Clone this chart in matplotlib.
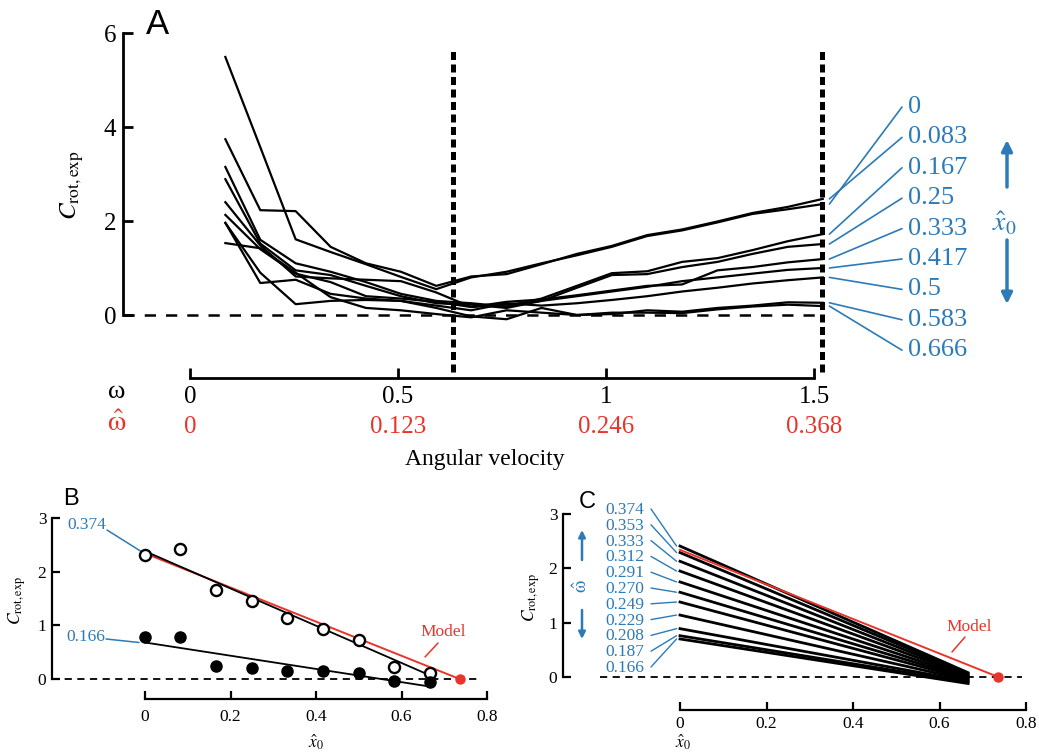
import numpy as np
import matplotlib
matplotlib.use('Agg')
import matplotlib.pyplot as plt
import matplotlib.transforms as mtransforms

# ------------------------------------------------------------------ data
# Panel A: angular velocity (omega) and experimental rotation coefficient
omega = [0.085, 0.169, 0.254, 0.338, 0.423, 0.507, 0.592, 0.676, 0.761,
         0.845, 0.930, 1.014, 1.099, 1.183, 1.268, 1.352, 1.437, 1.521]
x0_labels = ['0', '0.083', '0.167', '0.25', '0.333', '0.417', '0.5', '0.583', '0.666']
c_x0_000 = [5.49, 3.57, 1.61, 1.34, 1.08, 0.81, 0.55, 0.80, 0.92, 1.10, 1.27, 1.45, 1.68, 1.80, 1.97, 2.15, 2.25, 2.36]
c_x0_083 = [3.74, 2.23, 2.21, 1.45, 1.10, 0.92, 0.62, 0.82, 0.87, 1.08, 1.30, 1.47, 1.70, 1.82, 1.99, 2.17, 2.30, 2.47]
c_x0_167 = [3.15, 1.60, 1.10, 0.92, 0.70, 0.45, 0.30, 0.25, 0.18, 0.35, 0.62, 0.89, 0.93, 1.13, 1.21, 1.38, 1.57, 1.72]
c_x0_250 = [2.89, 1.52, 0.95, 0.85, 0.62, 0.40, 0.25, 0.22, 0.15, 0.30, 0.58, 0.85, 0.87, 1.02, 1.13, 1.30, 1.45, 1.51]
c_x0_333 = [2.40, 1.48, 0.82, 0.78, 0.75, 0.72, 0.48, 0.17, 0.28, 0.33, 0.42, 0.52, 0.62, 0.65, 0.95, 1.02, 1.12, 1.19]
c_x0_417 = [2.13, 1.40, 0.88, 0.70, 0.40, 0.35, 0.28, 0.17, 0.22, 0.30, 0.40, 0.50, 0.60, 0.72, 0.80, 0.88, 0.96, 1.00]
c_x0_500 = [1.96, 0.68, 0.75, 0.45, 0.35, 0.30, 0.20, 0.10, 0.25, 0.20, 0.25, 0.32, 0.40, 0.50, 0.58, 0.67, 0.74, 0.80]
c_x0_583 = [1.96, 0.90, 0.23, 0.30, 0.32, 0.30, 0.15, -0.03, -0.09, 0.15, 0.00, 0.02, 0.10, 0.07, 0.15, 0.20, 0.27, 0.26]
c_x0_666 = [1.53, 1.42, 0.90, 0.38, 0.15, 0.10, 0.02, -0.05, 0.10, 0.05, 0.00, 0.05, 0.05, 0.04, 0.12, 0.18, 0.22, 0.19]
series_A = [c_x0_000, c_x0_083, c_x0_167, c_x0_250, c_x0_333,
            c_x0_417, c_x0_500, c_x0_583, c_x0_666]
ref_omegas = [0.632, 1.52]
omega_ticks = [0, 0.5, 1, 1.5]
omega_tick_labels = ['0', '0.5', '1', '1.5']
omega_hat_labels = ['0', '0.123', '0.246', '0.368']

# Panel B: C_rot,exp vs x0 at two normalized angular velocities
x0_vals = [0, 0.083, 0.167, 0.25, 0.333, 0.417, 0.5, 0.583, 0.666]
b_open = [2.31, 2.42, 1.66, 1.45, 1.14, 0.93, 0.73, 0.22, 0.11]     # omega_hat 0.374
b_filled = [0.78, 0.78, 0.24, 0.20, 0.15, 0.15, 0.11, -0.04, -0.06]  # omega_hat 0.166
fit_x = [0, 0.666]
fit_open = [2.38, 0.07]
fit_filled = [0.68, -0.14]
model_x = [0, 0.736]
model_y = [2.34, 0.0]

# Panel C: fitted lines for several omega_hat values
omega_hat_C = ['0.374', '0.353', '0.333', '0.312', '0.291', '0.270',
               '0.249', '0.229', '0.208', '0.187', '0.166']
c_start = [2.41, 2.29, 2.13, 1.95, 1.75, 1.56, 1.38, 1.14, 0.89, 0.76, 0.70]
c_end = [0.08, 0.06, 0.04, 0.02, 0.00, -0.02, -0.04, -0.06, -0.08, -0.10, -0.12]
x_ticks_BC = [0, 0.2, 0.4, 0.6, 0.8]
x_tick_labels_BC = ['0', '0.2', '0.4', '0.6', '0.8']

# ------------------------------------------------------------------ style
W, H = 1039, 753
plt.rcParams['font.family'] = ['Liberation Serif', 'DejaVu Serif']
plt.rcParams['mathtext.fontset'] = 'stix'
BLUE = '#2c7bb8'
RED = '#e8352b'
SANS = ['Liberation Sans', 'DejaVu Sans']
OMEGA_HAT = r'$\hat{\mathrm{\omega}}$'

fig = plt.figure(figsize=(W / 100, H / 100), dpi=100)


def add_axes_px(l, t, r, b):
    return fig.add_axes([l / W, 1 - b / H, (r - l) / W, (b - t) / H])


def fp(x, y):
    return (x / W, 1 - y / H)


def style_axes(ax, lw, ticklen, labelsize, padx, pady):
    ax.patch.set_visible(False)
    for s in ('top', 'right'):
        ax.spines[s].set_visible(False)
    for s in ('left', 'bottom'):
        ax.spines[s].set_linewidth(lw)
    ax.tick_params(direction='in', length=ticklen, width=lw, labelsize=labelsize)
    ax.tick_params(axis='x', pad=padx)
    ax.tick_params(axis='y', pad=pady)


# ================================================================== Panel A
a_x0, a_sx, a_y0, a_sy = 190, 416.0, 315, 47.0
axA = add_axes_px(123, 20, 1000, 378)
axA.set_xlim((123 - a_x0) / a_sx, (1000 - a_x0) / a_sx)
axA.set_ylim((a_y0 - 378) / a_sy, (a_y0 - 20) / a_sy)
style_axes(axA, 2.0, 7, 18, 6, 5)
axA.spines['left'].set_bounds(0, 6)
axA.spines['bottom'].set_bounds(0, 1.5)
axA.set_yticks([0, 2, 4, 6])
axA.set_xticks(omega_ticks)
axA.set_xticklabels(omega_tick_labels)

for s in series_A:
    axA.plot(omega, s, color='black', lw=1.6, zorder=3)

for w in ref_omegas:
    axA.plot([w, w], [-1.22, 5.7], color='black', lw=3.6,
             dashes=(1.6, 0.9), zorder=2)
axA.plot([axA.get_xlim()[0], ref_omegas[-1]], [0, 0], color='black', lw=1.8,
         dashes=(4.5, 4), zorder=2)

# red omega_hat row
trans_red = mtransforms.blended_transform_factory(axA.transData, fig.transFigure)
for t, lab in zip(omega_ticks, omega_hat_labels):
    axA.text(t, 1 - 427 / H, lab, color=RED, fontsize=18, ha='center',
             va='center', transform=trans_red)
fig.text(*fp(117, 392), 'ω', fontsize=19, ha='center', va='center')
fig.text(*fp(117, 424), OMEGA_HAT, fontsize=21, ha='center', va='center', color=RED)
fig.text(*fp(485, 460), 'Angular velocity', fontsize=17, ha='center', va='center')
fig.text(*fp(72, 185), r'$C_{\mathrm{rot,exp}}$', fontsize=18, rotation=90,
         ha='center', va='center')
fig.text(*fp(146, 25), 'A', fontsize=25, ha='left', va='center', family=SANS)

# blue leaders for x0 labels
for i, (lab, s) in enumerate(zip(x0_labels, series_A)):
    ly = 107 + 30.4 * i
    axA.annotate('', xy=(1.537, s[-1]), xycoords='data',
                 xytext=fp(902, ly), textcoords='figure fraction',
                 arrowprops=dict(arrowstyle='-', color=BLUE, lw=1.2,
                                 shrinkA=0, shrinkB=0))
    fig.text(*fp(908, ly), lab, color=BLUE, fontsize=19, ha='left', va='center')

fig.text(*fp(1004, 224), r'$\hat{x}_0$', color=BLUE, fontsize=20,
         ha='center', va='center')
axA.annotate('', xy=fp(1007, 140), xycoords='figure fraction',
             xytext=fp(1007, 187), textcoords='figure fraction',
             arrowprops=dict(arrowstyle='-|>', color=BLUE, lw=2.5,
                             mutation_scale=16, shrinkA=0, shrinkB=0))
axA.annotate('', xy=fp(1007, 304), xycoords='figure fraction',
             xytext=fp(1007, 240), textcoords='figure fraction',
             arrowprops=dict(arrowstyle='-|>', color=BLUE, lw=2.5,
                             mutation_scale=16, shrinkA=0, shrinkB=0))

# ================================================================== Panel B
b_x0, b_sx, b_y0, b_sy = 145, 427.5, 679, 53.7
axB = add_axes_px(52, 490, 520, 699)
axB.set_xlim((52 - b_x0) / b_sx, (520 - b_x0) / b_sx)
axB.set_ylim((b_y0 - 699) / b_sy, (b_y0 - 490) / b_sy)
style_axes(axB, 1.6, 6, 12.5, 7, 4)
axB.spines['left'].set_bounds(0, 3)
axB.spines['bottom'].set_bounds(0, 0.8)
axB.set_yticks([0, 1, 2, 3])
axB.set_xticks(x_ticks_BC)
axB.set_xticklabels(x_tick_labels_BC)

axB.plot([axB.get_xlim()[0], 0.78], [0, 0], color='black', lw=1.3,
         dashes=(4, 3), zorder=1)
axB.plot(model_x, model_y, color=RED, lw=1.4, zorder=2)
axB.plot(fit_x, fit_open, color='black', lw=1.3, zorder=3)
axB.plot(fit_x, fit_filled, color='black', lw=1.3, zorder=3)
axB.plot(x0_vals, b_open, 'o', mfc='white', mec='black', ms=8, mew=1.7, zorder=4)
axB.plot(x0_vals, b_filled, 'o', color='black', ms=8, zorder=4)
axB.plot(model_x[-1:], model_y[-1:], 'o', color=RED, ms=6.5, zorder=5, clip_on=False)

fig.text(*fp(106, 525), '0.374', color=BLUE, fontsize=12.5, ha='right', va='center')
axB.annotate('', xy=(-0.01, fit_open[0]), xycoords='data',
             xytext=fp(107, 530), textcoords='figure fraction',
             arrowprops=dict(arrowstyle='-', color=BLUE, lw=1.1, shrinkA=0, shrinkB=0))
fig.text(*fp(105, 637), '0.166', color=BLUE, fontsize=12.5, ha='right', va='center')
axB.annotate('', xy=(-0.014, fit_filled[0]), xycoords='data',
             xytext=fp(106, 639), textcoords='figure fraction',
             arrowprops=dict(arrowstyle='-', color=BLUE, lw=1.1, shrinkA=0, shrinkB=0))
fig.text(*fp(420, 632), 'Model', color=RED, fontsize=12.5, ha='left', va='center')
axB.annotate('', xy=fp(425, 657), xycoords='figure fraction',
             xytext=fp(438, 643), textcoords='figure fraction',
             arrowprops=dict(arrowstyle='-', color=RED, lw=1.1, shrinkA=0, shrinkB=0))
fig.text(*fp(63, 499), 'B', fontsize=17, ha='left', va='center', family=SANS)
fig.text(*fp(17, 600), r'$C_{\mathrm{rot,exp}}$', fontsize=12.5, rotation=90,
         ha='center', va='center')
fig.text(*fp(316, 742), r'$\hat{x}_0$', fontsize=12.5, ha='center', va='center')

# ================================================================== Panel C
c_x0p, c_sx, c_y0, c_sy = 680, 432.5, 677, 54.33
axC = add_axes_px(563, 490, 1035, 710)
axC.set_xlim((563 - c_x0p) / c_sx, (1035 - c_x0p) / c_sx)
axC.set_ylim((c_y0 - 710) / c_sy, (c_y0 - 490) / c_sy)
style_axes(axC, 1.6, 6, 12.5, 4, 4)
axC.spines['left'].set_bounds(0, 3)
axC.spines['bottom'].set_bounds(0, 0.8)
axC.set_yticks([0, 1, 2, 3])
axC.set_xticks(x_ticks_BC)
axC.set_xticklabels(x_tick_labels_BC)

axC.plot([-0.185, 0.79], [0, 0], color='black', lw=1.3, dashes=(4, 3), zorder=1)
for cs, ce in zip(c_start, c_end):
    axC.plot(fit_x, [cs, ce], color='black', lw=2.0, zorder=2)
axC.plot(model_x, model_y, color=RED, lw=1.4, zorder=3)
axC.plot(model_x[-1:], model_y[-1:], 'o', color=RED, ms=6.5, zorder=5, clip_on=False)

for i, (lab, cs) in enumerate(zip(omega_hat_C, c_start)):
    ly = 510 + 15.8 * i
    fig.text(*fp(644, ly), lab, color=BLUE, fontsize=12.5, ha='right', va='center')
    axC.annotate('', xy=(-0.008, cs), xycoords='data',
                 xytext=fp(651, ly - 1), textcoords='figure fraction',
                 arrowprops=dict(arrowstyle='-', color=BLUE, lw=1.0,
                                 shrinkA=0, shrinkB=0))
fig.text(*fp(946, 627), 'Model', color=RED, fontsize=12.5, ha='left', va='center')
axC.annotate('', xy=fp(952, 652), xycoords='figure fraction',
             xytext=fp(965, 637), textcoords='figure fraction',
             arrowprops=dict(arrowstyle='-', color=RED, lw=1.1, shrinkA=0, shrinkB=0))

fig.text(*fp(582, 586), OMEGA_HAT, color=BLUE, fontsize=14, rotation=90,
         ha='center', va='center')
axC.annotate('', xy=fp(582, 530), xycoords='figure fraction',
             xytext=fp(582, 560), textcoords='figure fraction',
             arrowprops=dict(arrowstyle='-|>', color=BLUE, lw=1.8,
                             mutation_scale=10, shrinkA=0, shrinkB=0))
axC.annotate('', xy=fp(582, 639), xycoords='figure fraction',
             xytext=fp(582, 610), textcoords='figure fraction',
             arrowprops=dict(arrowstyle='-|>', color=BLUE, lw=1.8,
                             mutation_scale=10, shrinkA=0, shrinkB=0))
fig.text(*fp(579, 502), 'C', fontsize=17, ha='left', va='center', family=SANS)
fig.text(*fp(531, 597), r'$C_{\mathrm{rot,exp}}$', fontsize=12.5, rotation=90,
         ha='center', va='center')
fig.text(*fp(683, 742), r'$\hat{x}_0$', fontsize=12.5, ha='center', va='center')

fig.savefig('out.png', dpi=100)
